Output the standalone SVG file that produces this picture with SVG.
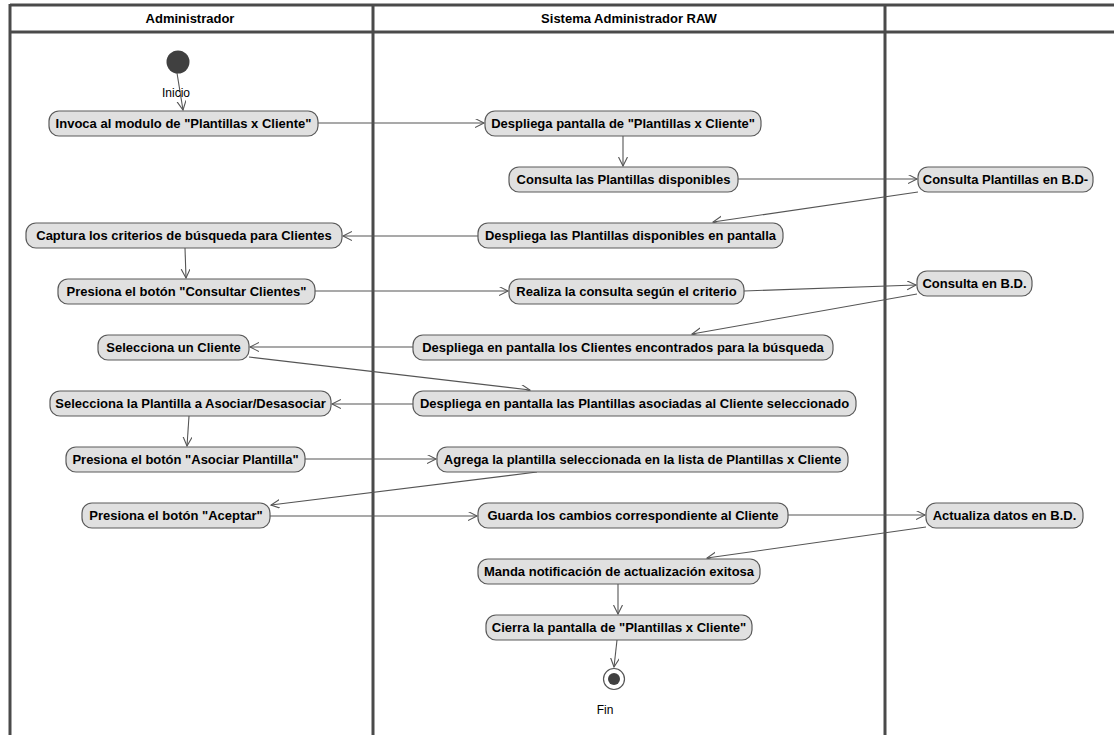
<svg xmlns="http://www.w3.org/2000/svg" width="1114" height="735" viewBox="0 0 1114 735">
  <style>
    .lane { stroke: #4a4a4a; stroke-width: 3; fill: none; }
    .hdr { font-family: "Liberation Sans", Arial, sans-serif; font-size: 13px; font-weight: bold; fill: #000; text-anchor: middle; }
    .act rect { fill: #e0e0e0; stroke: #5a5a5a; stroke-width: 1.2; }
    .act text { font-family: "Liberation Sans", Arial, sans-serif; font-size: 13px; font-weight: bold; fill: #000; text-anchor: middle; }
    .lbl { font-family: "Liberation Sans", Arial, sans-serif; font-size: 12px; fill: #000; text-anchor: middle; }
    #connectors line { stroke: #555; stroke-width: 1.1; marker-end: url(#open); }
  </style>
  <defs>
    <marker id="open" markerUnits="userSpaceOnUse" markerWidth="12" markerHeight="12" refX="9" refY="4.5" orient="auto">
      <path d="M0,0 L9,4.5 L0,9" fill="none" stroke="#555" stroke-width="1.1"/>
    </marker>
  </defs>
  <rect width="1114" height="735" fill="#fff"/>

  <!-- swimlanes -->
  <g id="lanes">
    <line class="lane" x1="10" y1="5" x2="1114" y2="5"/>
    <line class="lane" x1="10" y1="32" x2="1114" y2="32"/>
    <line class="lane" x1="10" y1="4" x2="10" y2="735"/>
    <line class="lane" x1="373" y1="4" x2="373" y2="735"/>
    <line class="lane" x1="885" y1="4" x2="885" y2="735"/>
    <text class="hdr" x="190" y="23">Administrador</text>
    <text class="hdr" x="629" y="23">Sistema Administrador RAW</text>
  </g>

  <!-- connectors -->
  <g id="connectors">
    <line x1="177" y1="73" x2="183" y2="110"/>
    <line x1="318" y1="123" x2="484" y2="123"/>
    <line x1="623" y1="136" x2="623" y2="166"/>
    <line x1="738" y1="179" x2="917" y2="179"/>
    <line x1="918" y1="192" x2="713" y2="222"/>
    <line x1="478" y1="236" x2="343" y2="236"/>
    <line x1="185" y1="248" x2="186" y2="278"/>
    <line x1="315" y1="291" x2="508" y2="291"/>
    <line x1="744" y1="291" x2="916" y2="285"/>
    <line x1="917" y1="294" x2="692" y2="334"/>
    <line x1="413" y1="347" x2="250" y2="347"/>
    <line x1="249" y1="357" x2="530" y2="390"/>
    <line x1="413" y1="404" x2="332" y2="404"/>
    <line x1="189" y1="416" x2="187" y2="446"/>
    <line x1="305" y1="459" x2="436" y2="459"/>
    <line x1="537" y1="472" x2="271" y2="505"/>
    <line x1="270" y1="516" x2="477" y2="516"/>
    <line x1="788" y1="515" x2="925" y2="515"/>
    <line x1="926" y1="527" x2="707" y2="558"/>
    <line x1="618" y1="584" x2="618" y2="614"/>
    <line x1="617" y1="640" x2="614" y2="667"/>
    <text class="lbl" x="176" y="97">Inicio</text>
  </g>

  <!-- start / end -->
  <g id="inicio"><circle cx="178" cy="62" r="11.5" fill="#404040"/></g>
  <g id="fin">
    <circle cx="614" cy="679" r="10.5" fill="#fff" stroke="#555" stroke-width="1.2"/>
    <circle cx="614" cy="679" r="6" fill="#404040"/>
    <text class="lbl" x="605" y="714">Fin</text>
  </g>

  <!-- actions -->
  <g id="n1" class="act"><rect x="49" y="111" width="269" height="25" rx="10"/><text x="183.5" y="128">Invoca al modulo de "Plantillas x Cliente"</text></g>
  <g id="n2" class="act"><rect x="485" y="111" width="276" height="25" rx="10"/><text x="623" y="128">Despliega pantalla de "Plantillas x Cliente"</text></g>
  <g id="n3" class="act"><rect x="509" y="167" width="229" height="25" rx="10"/><text x="623.5" y="184">Consulta las Plantillas disponibles</text></g>
  <g id="n4" class="act"><rect x="918" y="167" width="175" height="25" rx="10"/><text x="1005.5" y="184">Consulta Plantillas en B.D-</text></g>
  <g id="n5" class="act"><rect x="26" y="223" width="316" height="25" rx="10"/><text x="184" y="240">Captura los criterios de búsqueda para Clientes</text></g>
  <g id="n6" class="act"><rect x="478" y="223" width="305" height="25" rx="10"/><text x="630.5" y="240">Despliega las Plantillas disponibles en pantalla</text></g>
  <g id="n7" class="act"><rect x="58" y="279" width="257" height="25" rx="10"/><text x="186.5" y="296">Presiona el botón "Consultar Clientes"</text></g>
  <g id="n8" class="act"><rect x="509" y="279" width="235" height="25" rx="10"/><text x="626.5" y="296">Realiza la consulta según el criterio</text></g>
  <g id="n9" class="act"><rect x="917" y="271" width="115" height="25" rx="10"/><text x="974.5" y="288">Consulta en B.D.</text></g>
  <g id="n10" class="act"><rect x="413" y="335" width="420" height="25" rx="10"/><text x="623" y="352">Despliega en pantalla los Clientes encontrados para la búsqueda</text></g>
  <g id="n11" class="act"><rect x="98" y="335" width="151" height="25" rx="10"/><text x="173.5" y="352">Selecciona un Cliente</text></g>
  <g id="n12" class="act"><rect x="413" y="391" width="443" height="25" rx="10"/><text x="634.5" y="408">Despliega en pantalla las Plantillas asociadas al Cliente seleccionado</text></g>
  <g id="n13" class="act"><rect x="50" y="391" width="281" height="25" rx="10"/><text x="190.5" y="408">Selecciona la Plantilla a Asociar/Desasociar</text></g>
  <g id="n14" class="act"><rect x="66" y="447" width="239" height="25" rx="10"/><text x="185.5" y="464">Presiona el botón "Asociar Plantilla"</text></g>
  <g id="n15" class="act"><rect x="437" y="447" width="411" height="25" rx="10"/><text x="642.5" y="464">Agrega la plantilla seleccionada en la lista de Plantillas x Cliente</text></g>
  <g id="n16" class="act"><rect x="82" y="503" width="188" height="25" rx="10"/><text x="176" y="520">Presiona el botón "Aceptar"</text></g>
  <g id="n17" class="act"><rect x="478" y="503" width="310" height="25" rx="10"/><text x="633" y="520">Guarda los cambios correspondiente al Cliente</text></g>
  <g id="n18" class="act"><rect x="926" y="503" width="157" height="25" rx="10"/><text x="1004.5" y="520">Actualiza datos en B.D.</text></g>
  <g id="n19" class="act"><rect x="478" y="559" width="282" height="25" rx="10"/><text x="619" y="576">Manda notificación de actualización exitosa</text></g>
  <g id="n20" class="act"><rect x="486" y="615" width="266" height="25" rx="10"/><text x="619" y="632">Cierra la pantalla de "Plantillas x Cliente"</text></g>
</svg>
